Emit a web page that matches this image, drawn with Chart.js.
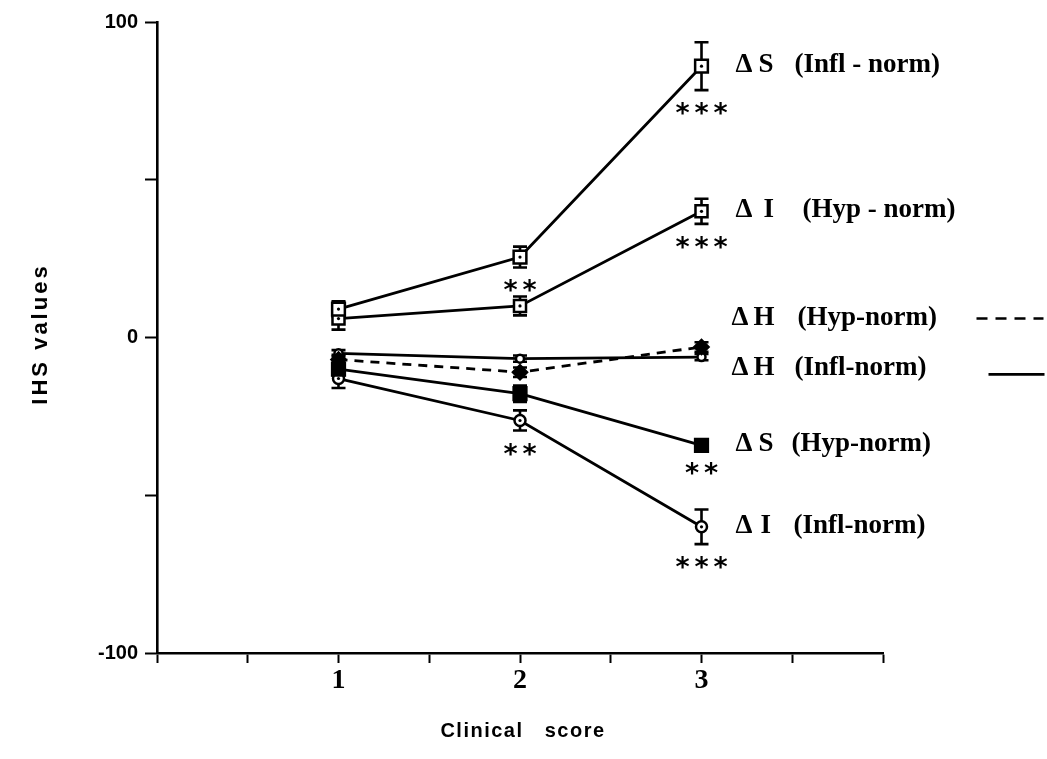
<!DOCTYPE html>
<html><head><meta charset="utf-8">
<script src="https://cdn.jsdelivr.net/npm/chart.js@4.4.1/dist/chart.umd.min.js"></script>
<style>html,body{margin:0;padding:0;background:#fff;}#wrap{width:1047px;height:759px;}</style>
</head><body><div id="wrap"><canvas id="c" width="1047" height="759"></canvas></div>
<script>
// ---- data ----
const clinicalScores = [1, 2, 3];
const xTickValues = [1, 2, 3];
const yTickValues = [-100, 0, 100];

const dS_Infl = [9, 25.5, 86];
const dS_Infl_err = [2.5, 3.3, 7.6];
const dS_Infl_sig = ['', '**', '***'];

const dI_Hyp = [6, 10, 40];
const dI_Hyp_err = [3.5, 3, 4];
const dI_Hyp_sig = ['', '', '***'];

const dH_Hyp = [-7, -11, -3];
const dH_Hyp_err = [1.5, 1.5, 1.5];
const dH_Hyp_sig = ['', '', ''];

const dH_Infl = [-5, -6.7, -6.2];
const dH_Infl_err = [1, 1, 1];
const dH_Infl_sig = ['', '', ''];

const dS_Hyp = [-10, -17.8, -34.2];
const dS_Hyp_err = [2, 2.6, 1.5];
const dS_Hyp_sig = ['', '', '**'];

const dI_Infl = [-13, -26.3, -60];
const dI_Infl_err = [3, 3.2, 5.5];
const dI_Infl_sig = ['', '**', '***'];

const seriesLetters = ['S', 'I', 'H', 'H', 'S', 'I'];
const seriesGroups = ['(Infl - norm)', '(Hyp - norm)', '(Hyp-norm)', '(Infl-norm)', '(Hyp-norm)', '(Infl-norm)'];

// ---- styling ----
const seriesDefs = [
  {v: dS_Infl, e: dS_Infl_err, s: dS_Infl_sig, style: 'rect', r: 9, fill: '#fff', dash: [], dot: true},
  {v: dI_Hyp, e: dI_Hyp_err, s: dI_Hyp_sig, style: 'rect', r: 8.5, fill: '#fff', dash: [], dot: true},
  {v: dH_Hyp, e: dH_Hyp_err, s: dH_Hyp_sig, style: 'rectRot', r: 7, fill: '#000', dash: [9, 7], dot: false},
  {v: dH_Infl, e: dH_Infl_err, s: dH_Infl_sig, style: 'circle', r: 4, fill: '#fff', dash: [], dot: false},
  {v: dS_Hyp, e: dS_Hyp_err, s: dS_Hyp_sig, style: 'rect', r: 9, fill: '#000', dash: [], dot: false},
  {v: dI_Infl, e: dI_Infl_err, s: dI_Infl_sig, style: 'circle', r: 5.5, fill: '#fff', dash: [], dot: true}
];
// label placement (in data units of the y axis) and offsets in pixels
const labelLayout = [
  {anchor: null, dx: [34, 57, 93]},
  {anchor: null, dx: [34, 62, 101]},
  {anchor: 6.0, dx: [30, 52, 96], legend: 'dash'},
  {anchor: -10.1, dx: [30, 52, 93], legend: 'solid'},
  {anchor: null, dx: [34, 57, 90]},
  {anchor: null, dx: [34, 59, 92]}
];

const datasets = seriesDefs.map((d, i) => ({
  label: seriesLetters[i] + ' ' + seriesGroups[i],
  data: clinicalScores.map((x, j) => ({x: x, y: d.v[j]})),
  showLine: true,
  borderColor: '#000',
  borderWidth: 2.8,
  borderDash: d.dash,
  pointStyle: d.style,
  pointRadius: d.r,
  pointHoverRadius: d.r,
  pointBorderWidth: 2.5,
  pointBorderColor: '#000',
  pointBackgroundColor: d.fill,
  backgroundColor: d.fill,
  clip: false,
  tension: 0
}));

const errorBars = {
  id: 'errorBars',
  beforeDatasetsDraw(chart) {
    const ctx = chart.ctx, xs = chart.scales.x, ys = chart.scales.y;
    ctx.save();
    ctx.strokeStyle = '#000';
    ctx.lineWidth = 2.6;
    ctx.setLineDash([]);
    seriesDefs.forEach(d => {
      clinicalScores.forEach((c, j) => {
        const x = xs.getPixelForValue(c);
        const yt = ys.getPixelForValue(d.v[j] + d.e[j]);
        const yb = ys.getPixelForValue(d.v[j] - d.e[j]);
        ctx.beginPath();
        ctx.moveTo(x, yt); ctx.lineTo(x, yb);
        ctx.moveTo(x - 7, yt); ctx.lineTo(x + 7, yt);
        ctx.moveTo(x - 7, yb); ctx.lineTo(x + 7, yb);
        ctx.stroke();
      });
    });
    ctx.restore();
  }
};

const annotations = {
  id: 'annotations',
  afterDatasetsDraw(chart) {
    const ctx = chart.ctx, xs = chart.scales.x, ys = chart.scales.y;
    ctx.save();
    ctx.fillStyle = '#000';
    // centre dots
    seriesDefs.forEach(d => {
      if (!d.dot) return;
      clinicalScores.forEach((c, j) => {
        ctx.beginPath();
        ctx.arc(xs.getPixelForValue(c), ys.getPixelForValue(d.v[j]), 1.6, 0, Math.PI * 2);
        ctx.fill();
      });
    });
    // significance stars
    ctx.font = 'bold 27px "DejaVu Sans"';
    ctx.textAlign = 'center';
    ctx.textBaseline = 'alphabetic';
    seriesDefs.forEach(d => {
      clinicalScores.forEach((c, j) => {
        const st = d.s[j];
        if (!st) return;
        const x = xs.getPixelForValue(c);
        const yb = ys.getPixelForValue(d.v[j] - d.e[j]) + 18;
        const n = st.length;
        for (let k = 0; k < n; k++) {
          ctx.fillText('*', x + (k - (n - 1) / 2) * 19, yb + 14);
        }
      });
    });
    // series labels
    const x3 = xs.getPixelForValue(clinicalScores[clinicalScores.length - 1]);
    ctx.textAlign = 'left';
    ctx.textBaseline = 'middle';
    seriesDefs.forEach((d, i) => {
      const L = labelLayout[i];
      const yv = L.anchor === null ? d.v[d.v.length - 1] : L.anchor;
      const y = ys.getPixelForValue(yv) - 1;
      ctx.font = 'bold 27px "Liberation Serif"';
      ctx.fillText('\u0394', x3 + L.dx[0], y);
      ctx.fillText(seriesLetters[i], x3 + L.dx[1], y);
      ctx.fillText(seriesGroups[i], x3 + L.dx[2], y);
      if (L.legend) {
        ctx.save();
        ctx.strokeStyle = '#000';
        ctx.lineWidth = 2.6;
        ctx.beginPath();
        if (L.legend === 'dash') {
          ctx.setLineDash([11, 8]);
          ctx.moveTo(x3 + 275, y + 1); ctx.lineTo(x3 + 342, y + 1);
        } else {
          ctx.setLineDash([]);
          ctx.moveTo(x3 + 287, y + 6); ctx.lineTo(x3 + 343, y + 6);
        }
        ctx.stroke();
        ctx.restore();
      }
    });
    ctx.restore();
  },
  afterDraw(chart) {
    const ctx = chart.ctx;
    ctx.save();
    ctx.fillStyle = '#000';
    ctx.textAlign = 'center';
    ctx.textBaseline = 'middle';
    ctx.font = 'bold 22px "Liberation Sans"';
    if ('letterSpacing' in ctx) ctx.letterSpacing = '3px';
    ctx.translate(41, 334);
    ctx.rotate(-Math.PI / 2);
    ctx.fillText('IHS values', 0, 0);
    ctx.restore();
    ctx.save();
    ctx.fillStyle = '#000';
    ctx.textAlign = 'center';
    ctx.textBaseline = 'middle';
    ctx.font = 'bold 20px "Liberation Sans"';
    if ('letterSpacing' in ctx) ctx.letterSpacing = '1.5px';
    ctx.fillText('Clinical   score', 523, 731);
    ctx.restore();
  }
};

new Chart(document.getElementById('c'), {
  type: 'scatter',
  data: {datasets: datasets},
  options: {
    responsive: false,
    animation: false,
    devicePixelRatio: 1,
    layout: {padding: {top: 22, right: 164, left: 0, bottom: 0}},
    plugins: {legend: {display: false}, tooltip: {enabled: false}},
    scales: {
      x: {
        type: 'linear', min: 0, max: 4,
        afterFit: s => { s.height = 106; },
        ticks: {
          stepSize: 0.5, autoSkip: false, maxRotation: 0, padding: 1, color: '#000',
          font: {family: 'Liberation Serif', weight: 'bold', size: 28},
          callback: v => xTickValues.includes(v) ? String(v) : ''
        },
        grid: {drawOnChartArea: false, drawTicks: true, tickLength: 10, tickWidth: 2, tickColor: '#000'},
        border: {display: true, color: '#000', width: 2.6}
      },
      y: {
        type: 'linear', min: -100, max: 100,
        afterFit: s => { s.width = 157; },
        ticks: {
          stepSize: 50, autoSkip: false, padding: 7, color: '#000',
          font: {family: 'Liberation Sans', weight: 'bold', size: 20},
          callback: v => yTickValues.includes(v) ? String(v) : ''
        },
        grid: {drawOnChartArea: false, drawTicks: true, tickLength: 12, tickWidth: 2, tickColor: '#000'},
        border: {display: true, color: '#000', width: 2.6}
      }
    }
  },
  plugins: [errorBars, annotations]
});
</script>
</body></html>
